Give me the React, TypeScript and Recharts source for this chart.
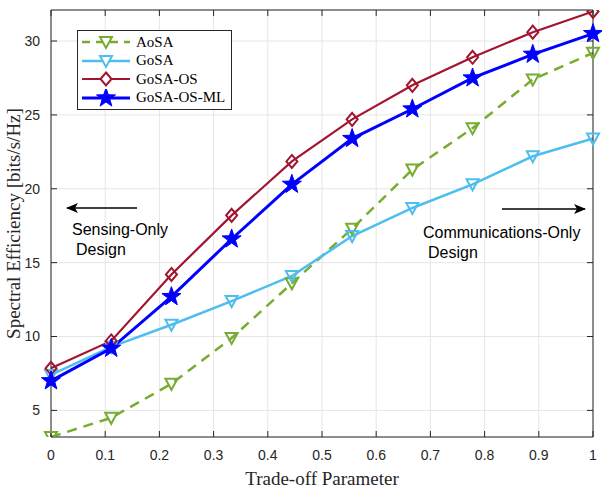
import React from 'react';
import {
  LineChart,
  Line,
  XAxis,
  YAxis,
  CartesianGrid,
  Legend
} from 'recharts';

// trade-off parameter samples (0 .. 1 in 9 steps)
const tradeoff = [0, 0.1111, 0.2222, 0.3333, 0.4444, 0.5556, 0.6667, 0.7778, 0.8889, 1];

const aosa = [3.2, 4.5, 6.8, 9.9, 13.6, 17.3, 21.3, 24.1, 27.4, 29.2];
const gosa = [7.4, 9.3, 10.8, 12.4, 14.1, 16.8, 18.7, 20.3, 22.2, 23.4];
const gosaOs = [7.85, 9.7, 14.2, 18.2, 21.85, 24.7, 27.0, 28.9, 30.6, 32.0];
const gosaOsMl = [7.0, 9.2, 12.7, 16.6, 20.3, 23.4, 25.4, 27.5, 29.1, 30.5];

const xTicks = [0, 0.1, 0.2, 0.3, 0.4, 0.5, 0.6, 0.7, 0.8, 0.9, 1];
const yTicks = [5, 10, 15, 20, 25, 30];

const chartData = tradeoff.map((t, i) => ({
  t,
  AoSA: aosa[i],
  GoSA: gosa[i],
  'GoSA-OS': gosaOs[i],
  'GoSA-OS-ML': gosaOsMl[i],
}));

const AXIS_COLOR = '#262626';
const SANS = '"Liberation Sans", Arial, sans-serif';
const SERIF = '"Liberation Serif", "DejaVu Serif", serif';

const C_AOSA = '#77AC30';
const C_GOSA = '#4DBEEE';
const C_OS = '#A2142F';
const C_ML = '#0000FF';

const triPath = (cx: number, cy: number) =>
  `M${cx - 6},${cy - 5} L${cx + 6},${cy - 5} L${cx},${cy + 6} Z`;
const diaPath = (cx: number, cy: number) =>
  `M${cx},${cy - 6.5} L${cx + 5.5},${cy} L${cx},${cy + 6.5} L${cx - 5.5},${cy} Z`;
const starPath = (cx: number, cy: number) => {
  const pts: string[] = [];
  for (let k = 0; k < 10; k++) {
    const r = k % 2 === 0 ? 10 : 4;
    const a = -Math.PI / 2 + (k * Math.PI) / 5;
    pts.push(`${(cx + r * Math.cos(a)).toFixed(2)},${(cy + r * Math.sin(a)).toFixed(2)}`);
  }
  return 'M' + pts.join(' L') + ' Z';
};

const makeDot = (kind: 'tri' | 'dia' | 'star', color: string) => (props: any) => {
  const { cx, cy, index } = props;
  if (cx == null || cy == null) return <g key={index} />;
  if (kind === 'star') {
    return <path key={index} d={starPath(cx, cy)} fill={color} stroke={color} strokeWidth={1} />;
  }
  const d = kind === 'tri' ? triPath(cx, cy) : diaPath(cx, cy);
  return <path key={index} d={d} fill="none" stroke={color} strokeWidth={2} />;
};

const legendItems = [
  { name: 'AoSA', color: C_AOSA, kind: 'tri' as const, dash: '8 6', width: 2.5 },
  { name: 'GoSA', color: C_GOSA, kind: 'tri' as const, dash: undefined, width: 2.5 },
  { name: 'GoSA-OS', color: C_OS, kind: 'dia' as const, dash: undefined, width: 2 },
  { name: 'GoSA-OS-ML', color: C_ML, kind: 'star' as const, dash: undefined, width: 3 },
];

const LegendBox = () => (
  <div
    style={{
      border: `1px solid ${AXIS_COLOR}`,
      background: '#fff',
      padding: '2px 6px 2px 2px',
      width: 155,
      boxSizing: 'border-box',
    }}
  >
    {legendItems.map((it) => (
      <div key={it.name} style={{ display: 'flex', alignItems: 'center', height: 18.5 }}>
        <svg width={54} height={18} style={{ flex: 'none' }}>
          <line x1={2} y1={9} x2={50} y2={9} stroke={it.color} strokeWidth={it.width} strokeDasharray={it.dash} />
          {it.kind === 'star' ? (
            <path d={starPath(26, 9)} fill={it.color} stroke={it.color} />
          ) : (
            <path d={it.kind === 'tri' ? triPath(26, 9) : diaPath(26, 9)} fill="#fff" stroke={it.color} strokeWidth={2} />
          )}
        </svg>
        <span style={{ fontFamily: SERIF, fontSize: 15, color: '#000', marginLeft: 2, whiteSpace: 'nowrap' }}>
          {it.name}
        </span>
      </div>
    ))}
  </div>
);

const emptyTick = () => <g />;

export default function App() {
  return (
    <div style={{ position: 'relative', width: 602, height: 490, background: '#fff' }}>
      <style>{'body{margin:0;}'}</style>
      <LineChart
        width={602}
        height={490}
        data={chartData}
        margin={{ top: 0, right: 0, bottom: 0, left: 0 }}
      >
        <CartesianGrid xAxisId="bottom" yAxisId="left" stroke="#e6e6e6" strokeWidth={1} />
        <XAxis
          xAxisId="bottom"
          dataKey="t"
          type="number"
          domain={[0, 1]}
          ticks={xTicks}
          height={53}
          tickSize={-6}
          tickMargin={19}
          stroke={AXIS_COLOR}
          tick={{ fill: AXIS_COLOR, fontFamily: SANS, fontSize: 14 }}
          tickFormatter={(v: number) => String(v)}
          label={{
            value: 'Trade-off Parameter',
            position: 'insideBottom',
            offset: 5,
            style: { fontFamily: SERIF, fontSize: 19, fill: AXIS_COLOR },
          }}
        />
        <XAxis
          xAxisId="top"
          orientation="top"
          dataKey="t"
          type="number"
          domain={[0, 1]}
          ticks={xTicks}
          height={10}
          tickSize={-6}
          stroke={AXIS_COLOR}
          tick={emptyTick}
        />
        <YAxis
          yAxisId="left"
          type="number"
          domain={[3.2, 32.1]}
          ticks={yTicks}
          width={51}
          tickSize={-6}
          tickMargin={17}
          stroke={AXIS_COLOR}
          allowDataOverflow
          tick={{ fill: AXIS_COLOR, fontFamily: SANS, fontSize: 14 }}
          label={{
            value: 'Spectral Efficiency [bits/s/Hz]',
            angle: -90,
            position: 'insideLeft',
            offset: 13,
            style: { fontFamily: SERIF, fontSize: 19, fill: AXIS_COLOR, textAnchor: 'middle' },
          }}
        />
        <YAxis
          yAxisId="right"
          orientation="right"
          type="number"
          domain={[3.2, 32.1]}
          ticks={yTicks}
          width={9}
          tickSize={-6}
          stroke={AXIS_COLOR}
          allowDataOverflow
          tick={emptyTick}
        />
        <Legend
          layout="vertical"
          align="center"
          verticalAlign="middle"
          content={<LegendBox />}
          wrapperStyle={{ position: 'absolute', left: 77, top: 30, width: 155, height: 78 }}
        />
        <Line
          xAxisId="bottom"
          yAxisId="left"
          dataKey="AoSA"
          stroke={C_AOSA}
          strokeWidth={2.5}
          strokeDasharray="10 7"
          dot={makeDot('tri', C_AOSA)}
          activeDot={false}
          isAnimationActive={false}
        />
        <Line
          xAxisId="bottom"
          yAxisId="left"
          dataKey="GoSA"
          stroke={C_GOSA}
          strokeWidth={2.5}
          dot={makeDot('tri', C_GOSA)}
          activeDot={false}
          isAnimationActive={false}
        />
        <Line
          xAxisId="bottom"
          yAxisId="left"
          dataKey="GoSA-OS"
          stroke={C_OS}
          strokeWidth={2.2}
          dot={makeDot('dia', C_OS)}
          activeDot={false}
          isAnimationActive={false}
        />
        <Line
          xAxisId="bottom"
          yAxisId="left"
          dataKey="GoSA-OS-ML"
          stroke={C_ML}
          strokeWidth={3}
          dot={makeDot('star', C_ML)}
          activeDot={false}
          isAnimationActive={false}
        />
      </LineChart>

      {/* annotations: design-extreme arrows and captions */}
      <svg
        width={602}
        height={490}
        style={{ position: 'absolute', left: 0, top: 0, pointerEvents: 'none' }}
      >
        <defs>
          <marker id="arrowHead" viewBox="0 0 12 10" refX="11" refY="5" markerWidth="12" markerHeight="10" orient="auto-start-reverse" markerUnits="userSpaceOnUse">
            <path d="M0,0 L12,5 L0,10 L3,5 Z" fill="#000" />
          </marker>
        </defs>
        <line x1={137} y1={208} x2={67} y2={208} stroke="#000" strokeWidth={1.3} markerEnd="url(#arrowHead)" />
        <line x1={502} y1={209} x2={585} y2={209} stroke="#000" strokeWidth={1.3} markerEnd="url(#arrowHead)" />
        <text x={72} y={235} fontFamily={SANS} fontSize={16} fill="#000">Sensing-Only</text>
        <text x={76} y={255} fontFamily={SANS} fontSize={16} fill="#000">Design</text>
        <text x={423} y={238} fontFamily={SANS} fontSize={16} fill="#000">Communications-Only</text>
        <text x={428} y={258} fontFamily={SANS} fontSize={16} fill="#000">Design</text>
      </svg>
    </div>
  );
}
